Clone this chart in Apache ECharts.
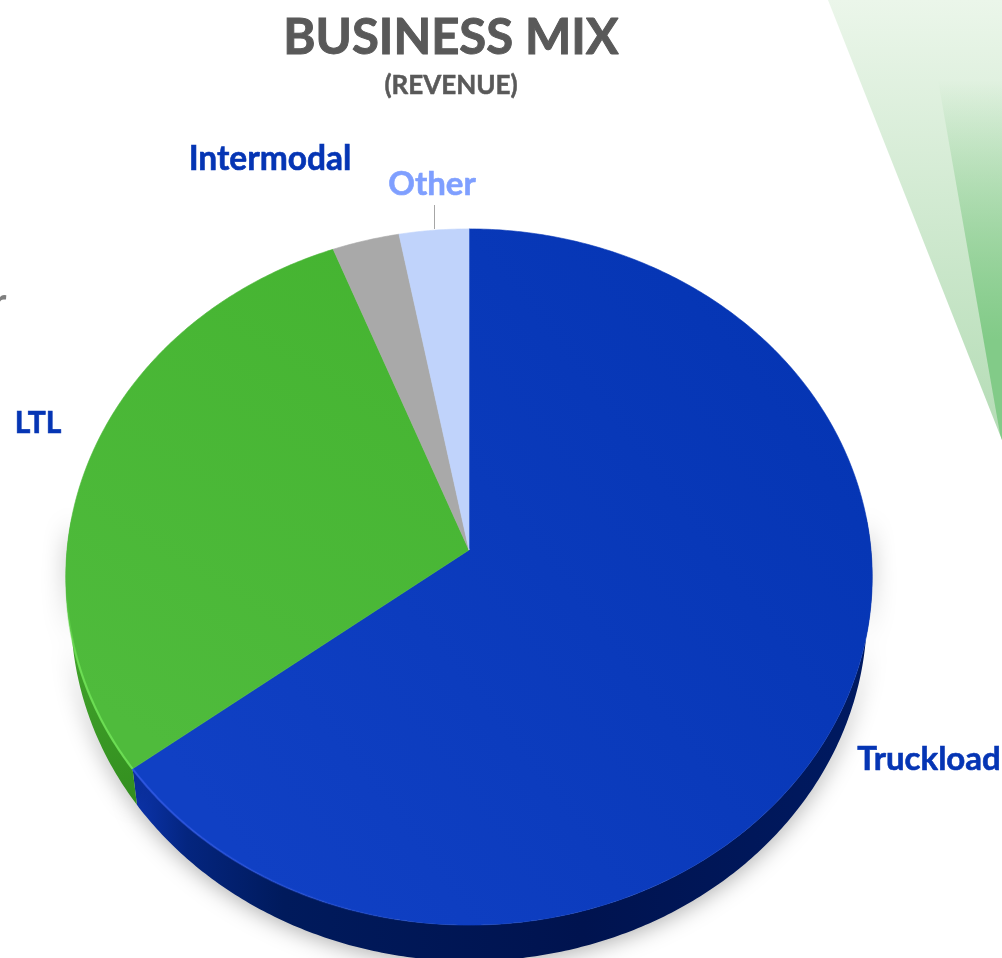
<!DOCTYPE html>
<html>
<head>
<meta charset="utf-8">
<title>Business Mix</title>
<style>html,body{margin:0;padding:0;background:#fff}#chart{width:1002px;height:958px}</style>
<script src="https://cdn.jsdelivr.net/npm/echarts@6/dist/echarts.min.js"></script>
</head>
<body>
<div id="chart"></div>
<script>
// Revenue share by business line, in percent
const categories = ['Truckload', 'LTL', 'Intermodal', 'Other'];
const shares = [64.7, 29.4, 2.9, 3.0];
const chartTitle = 'BUSINESS MIX';
const chartSubtitle = '(REVENUE)';

const FONT = 'Lato, "Open Sans", sans-serif';
const Linear = echarts.graphic.LinearGradient;

// Tilted disc: a unit circle projected to the screen, nearer at the bottom
const disc = { cx: 469, cy: 550, a: 402, b: 346, k: -0.0776, depth: 36, inset: 0.987 };
function project(angle) {
  const x = Math.sin(angle), y = -Math.cos(angle);
  const w = 1 + disc.k * y;
  return [disc.cx + disc.a * x / w, disc.cy + disc.b * y / w];
}
function arc(from, to) {
  const n = Math.max(2, Math.ceil((to - from) / 0.01));
  const pts = [];
  for (let i = 0; i <= n; i++) pts.push(project(from + (to - from) * i / n));
  return pts;
}

const faceFill = [
  new Linear(860, 300, 200, 800, [{ offset: 0, color: '#0434b2' }, { offset: 1, color: '#1040c4' }], true),
  new Linear(400, 260, 120, 720, [{ offset: 0, color: '#45b431' }, { offset: 1, color: '#4fbb3c' }], true),
  '#a9a9a9',
  '#c0d3fb'
];
const wallFill = [
  new Linear(135, 0, 880, 0, [
    { offset: 0, color: '#0b33ab' },
    { offset: 0.07, color: '#04257f' },
    { offset: 0.2, color: '#001a5c' },
    { offset: 0.6, color: '#00134f' },
    { offset: 1, color: '#001a62' }
  ], true),
  new Linear(66, 600, 135, 800, [{ offset: 0, color: '#45a82f' }, { offset: 1, color: '#338f1f' }], true),
  '#888888',
  '#9aa9cc'
];
const rimStroke = [
  new Linear(135, 0, 420, 0, [{ offset: 0, color: 'rgba(50,90,235,0.7)' }, { offset: 1, color: 'rgba(50,90,235,0)' }], true),
  new Linear(66, 590, 135, 770, [{ offset: 0, color: 'rgba(110,225,85,0)' }, { offset: 0.4, color: 'rgba(110,225,85,0.9)' }, { offset: 1, color: 'rgba(110,225,85,0.9)' }], true),
  'rgba(0,0,0,0)',
  'rgba(0,0,0,0)'
];

// The side wall only shows along the near half of the disc
const wallFrom = Math.PI * 0.47;
const wallTo = Math.PI * 1.53;

const total = shares.reduce((s, v) => s + v, 0);
const startAngles = [];
shares.reduce((acc, v, i) => { startAngles[i] = acc; return acc + v; }, 0);

function renderSlice(params, api) {
  const i = params.dataIndex;
  const a0 = startAngles[i] / total * Math.PI * 2;
  const a1 = a0 + api.value(0) / total * Math.PI * 2;
  const rim = arc(a0, a1);
  const children = [
    {
      type: 'polygon', z2: 5,
      shape: { points: [[disc.cx, disc.cy]].concat(rim) },
      style: { fill: faceFill[i], stroke: faceFill[i], lineWidth: 0.6 }
    },
    {
      type: 'polyline', z2: 6,
      shape: { points: rim },
      style: { fill: null, stroke: rimStroke[i], lineWidth: 2.2 }
    }
  ];
  const w0 = Math.max(a0, wallFrom), w1 = Math.min(a1, wallTo);
  if (w1 > w0) {
    const upper = arc(w0, w1);
    const lower = upper.map(p => [disc.cx + (p[0] - disc.cx) * disc.inset, p[1] + disc.depth]);
    children.push({
      type: 'polygon', z2: 1,
      shape: { points: upper.concat(lower.slice().reverse()) },
      style: { fill: wallFill[i], shadowBlur: 22, shadowColor: 'rgba(0,0,0,0.32)', shadowOffsetY: 3 }
    });
  }
  return { type: 'group', children };
}

// Label placement around the disc, one entry per category
const labelCentres = [[929, 759], [38, 423], [270, 159], [432, 184]];
const labelColours = ['#0535b4', '#0535b4', '#0535b4', '#7f9fff'];
const labelSizes = [33, 30, 33.5, 33];
const labelGraphics = categories.map((name, i) => ({
  type: 'text', z: 20,
  x: labelCentres[i][0], y: labelCentres[i][1],
  style: {
    text: name, fill: labelColours[i], stroke: labelColours[i], lineWidth: 0.6,
    font: 'bold ' + labelSizes[i] + 'px ' + FONT, align: 'center', verticalAlign: 'middle'
  }
}));

const option = {
  animation: false,
  backgroundColor: '#ffffff',
  title: [
    {
      text: chartTitle, left: 446, top: 33, textAlign: 'center', textVerticalAlign: 'middle',
      textStyle: { color: '#595959', fontFamily: FONT, fontWeight: 'bold', fontSize: 49, textBorderColor: '#595959', textBorderWidth: 1 }
    },
    {
      text: chartSubtitle, left: 446, top: 81, textAlign: 'center', textVerticalAlign: 'middle',
      textStyle: { color: '#595959', fontFamily: FONT, fontWeight: 'bold', fontSize: 26, textBorderColor: '#595959', textBorderWidth: 0.5 }
    }
  ],
  graphic: [
    {
      type: 'polygon', z: -2,
      shape: { points: [[828, 0], [1002, 0], [1002, 440]] },
      style: { fill: new Linear(0, 0, 0, 440, [{ offset: 0, color: '#ebf6ea' }, { offset: 1, color: '#b4dcb5' }], true) }
    },
    {
      type: 'polygon', z: -1,
      shape: { points: [[938, 80], [1002, 80], [1002, 440], [1000, 434]] },
      style: { fill: new Linear(0, 80, 0, 340, [{ offset: 0, color: 'rgba(125,200,130,0)' }, { offset: 1, color: 'rgba(130,203,136,1)' }], true) }
    },
    // Leader from the Other label down to its slice
    { type: 'line', z: 20, shape: { x1: 434.5, y1: 205, x2: 434.5, y2: 229 }, style: { stroke: '#a6a6a6', lineWidth: 1 } },
    // Tail end of the neighbouring panel's text, cut off by the left edge
    { type: 'text', z: 20, x: -7, y: 302, style: { text: 'r', fill: '#7f7f7f', font: 'bold 36px ' + FONT, verticalAlign: 'middle' } }
  ].concat(labelGraphics),
  series: [{
    type: 'custom',
    coordinateSystem: 'none',
    name: 'Revenue',
    renderItem: renderSlice,
    data: shares.map((v, i) => ({ name: categories[i], value: [v] }))
  }]
};

const chart = echarts.init(document.getElementById('chart'), null, { renderer: 'canvas' });
chart.setOption(option);
</script>
</body>
</html>
